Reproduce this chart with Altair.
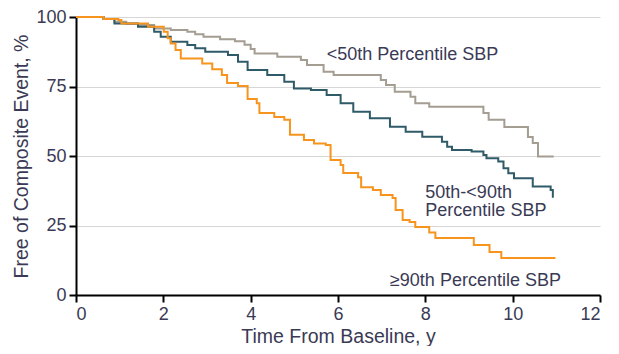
import altair as alt
import pandas as pd

# Kaplan-Meier step curves (time in years, % free of composite event)
low_t = [0, 0.63, 0.88, 1.15, 1.42, 1.79, 2.17, 2.55, 2.73, 2.92, 3.30, 3.64, 3.86, 4.00, 4.09,
         4.61, 5.15, 5.29, 5.67, 5.90, 6.98, 7.10, 7.30, 7.66, 7.77, 8.09, 9.33, 9.45, 9.81,
         10.35, 10.46, 10.58, 10.94]
low_s = [100, 99.3, 98.3, 97.6, 97.1, 95.9, 95.3, 94.7, 93.8, 92.9, 92.0, 91.3, 90.0, 88.5, 86.9,
         85.7, 84.5, 82.7, 80.3, 79.1, 77.3, 75.5, 73.1, 71.3, 69.0, 67.7, 65.5, 63.0, 60.4,
         56.8, 54.7, 49.8, 49.8]

mid_t = [0, 0.63, 0.88, 1.42, 1.79, 1.94, 2.17, 2.55, 2.73, 2.96, 3.48, 3.71, 3.93, 4.38, 4.77,
         4.99, 5.38, 5.74, 6.06, 6.35, 6.73, 7.19, 7.55, 7.93, 8.38, 8.50, 8.61, 9.06, 9.33,
         9.40, 9.67, 9.79, 9.90, 10.03, 10.46, 10.87, 10.92]
mid_s = [100, 99.3, 97.7, 96.5, 94.7, 92.9, 91.1, 89.9, 88.8, 87.5, 86.3, 83.9, 80.9, 79.1, 76.7,
         74.3, 73.7, 71.9, 69.0, 65.9, 63.6, 60.5, 58.7, 56.9, 55.1, 53.3, 52.2, 51.6, 50.4,
         49.2, 48.0, 45.6, 43.8, 42.0, 39.0, 37.8, 35.0]

high_t = [0, 0.63, 0.97, 1.04, 1.65, 2.01, 2.10, 2.17, 2.28, 2.40, 2.89, 3.12, 3.34, 3.46, 3.71,
          3.93, 4.14, 4.20, 4.54, 4.77, 4.90, 5.22, 5.45, 5.72, 5.83, 6.06, 6.12, 6.46, 6.53,
          6.80, 6.98, 7.25, 7.32, 7.48, 7.64, 7.77, 8.09, 8.23, 9.11, 9.47, 9.74, 10.98]
high_s = [100, 99.3, 98.9, 97.7, 96.5, 94.7, 92.4, 90.5, 88.1, 85.1, 83.3, 81.2, 79.1, 76.3, 75.2,
          70.5, 69.0, 65.5, 64.0, 63.0, 57.6, 55.8, 54.5, 54.0, 48.6, 46.8, 43.9, 42.4, 38.8,
          37.8, 36.0, 34.9, 30.6, 27.0, 26.3, 24.5, 22.5, 20.5, 18.0, 15.5, 13.3, 13.3]

groups = ["<50th Percentile SBP", "50th-<90th Percentile SBP", "≥90th Percentile SBP"]
colors = ["#a39d92", "#2f5b68", "#f7941e"]

label_text = ["<50th Percentile SBP", "50th-<90th\nPercentile SBP", "≥90th Percentile SBP"]
label_t = [5.74, 8.0, 7.19]
label_s = [84.4, 34.9, 3.2]

x_ticks = [0, 2, 4, 6, 8, 10, 12]
y_ticks = [0, 25, 50, 75, 100]

rows = []
for g, ts, ss in zip(groups, [low_t, mid_t, high_t], [low_s, mid_s, high_s]):
    for i, (t, s) in enumerate(zip(ts, ss)):
        rows.append({"group": g, "t": t, "s": s, "i": i})
df = pd.DataFrame(rows)
labels = pd.DataFrame({"text": label_text, "t": label_t, "s": label_s})

FONT = "Liberation Sans"
TXT = "#3a3a55"

x_enc = alt.X("t:Q", scale=alt.Scale(domain=[0, 12], nice=False),
              axis=alt.Axis(values=x_ticks, title="Time From Baseline, y", grid=False,
                            format="d", titleY=41, titleBaseline="middle"))
y_enc = alt.Y("s:Q", scale=alt.Scale(domain=[0, 100], nice=False),
              axis=alt.Axis(values=y_ticks, title="Free of Composite Event, %", grid=True,
                            titleX=-55, titleY=139, titleBaseline="middle", titleAlign="center"))

lines = alt.Chart(df).mark_line(interpolate="step-after", strokeWidth=2).encode(
    x=x_enc,
    y=y_enc,
    color=alt.Color("group:N", scale=alt.Scale(domain=groups, range=colors), legend=None),
    order="i:Q",
)

text = alt.Chart(labels).mark_text(align="left", baseline="alphabetic", font=FONT,
                                   fontSize=18, color=TXT, lineBreak="\n",
                                   lineHeight=18).encode(
    x="t:Q", y="s:Q", text="text:N"
)

chart = alt.layer(lines, text).properties(
    width=524, height=278,
    autosize=alt.AutoSizeParams(type="none"),
    padding={"left": 68, "top": 9, "right": 11, "bottom": 51},
).configure_view(stroke=None).configure_axis(
    domainColor="black", domainWidth=2, tickColor="black", tickWidth=2, tickSize=7,
    labelFont=FONT, labelFontSize=18, labelColor=TXT, labelPadding=3,
    titleFont=FONT, titleFontSize=19.5, titleFontWeight="normal", titleColor=TXT,
    gridColor="#d6d6d6", gridWidth=1,
)

chart.save("out.html", embed_options={"renderer": "svg", "actions": False})
